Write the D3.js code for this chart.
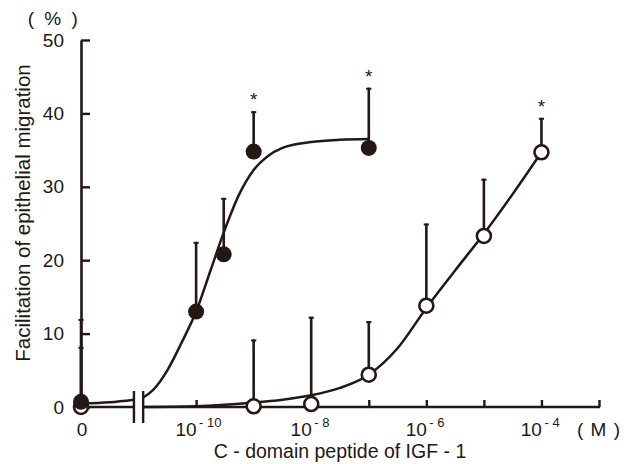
<!DOCTYPE html>
<html>
<head>
<meta charset="utf-8">
<script src="https://cdn.jsdelivr.net/npm/d3@7"></script>
<style>
  body { margin: 0; background: #fff; }
  svg { display: block; }
</style>
</head>
<body>
<div id="chart"></div>
<script>
// dose 0 is drawn at this position on the log10 axis (left of the break)
const ZERO_POS = -12;
const BREAK = [-11.08, -10.92];

const xTickExps = [-10, -9, -8, -7, -6, -5, -4, -3];
const xLabelExps = [-10, -8, -6, -4];
const yTicks = [0, 10, 20, 30, 40, 50];

// filled circles
const filledExp = [ZERO_POS, -10, -9.52, -9, -7];
const filledMean = [0.7, 13.0, 20.8, 34.8, 35.3];
const filledUpper = [12.0, 22.5, 28.5, 40.3, 43.5];
const filledStar = [false, false, false, true, true];

// open circles
const openExp = [ZERO_POS, -9, -8, -7, -6, -5, -4];
const openMean = [0, 0.1, 0.4, 4.4, 13.8, 23.3, 34.7];
const openUpper = [8.2, 9.2, 12.3, 11.7, 25.0, 31.1, 39.4];
const openStar = [false, false, false, false, false, false, true];

// fitted curves
const filledFitZeroExp = [ZERO_POS, -11.5, BREAK[0]];
const filledFitZeroVal = [0.5, 0.65, 1.0];
const filledFitExp = [-10.92, -10.75, -10.5, -10.25, -10, -9.75, -9.5, -9.25, -9, -8.75, -8.5, -8, -7.5, -7];
const filledFitVal = [1.3, 2.3, 5.0, 8.8, 13.0, 18.6, 24.2, 29.0, 32.3, 34.2, 35.3, 36.1, 36.4, 36.5];
const openFitExp = [-10.92, -10, -9.5, -9, -8.5, -8, -7.5, -7, -6.5, -6, -5.5, -5, -4.5, -4];
const openFitVal = [0.0, 0.1, 0.3, 0.6, 1.0, 1.6, 2.6, 4.4, 8.0, 13.5, 18.6, 23.6, 29.0, 34.7];

const W = 637, H = 464;
const ink = "#231815";
const font = "'Liberation Sans', Arial, Helvetica, sans-serif";

const svg = d3.select("#chart").append("svg")
  .attr("width", W)
  .attr("height", H)
  .attr("font-family", font);

const x = d3.scaleLinear().domain([ZERO_POS, -3]).range([81, 599]);
const y = d3.scaleLinear().domain([0, 50]).range([407, 40]);

const line = d3.line()
  .x((d) => x(d[0]))
  .y((d) => y(d[1]))
  .curve(d3.curveMonotoneX);

// fitted curves
const curves = [
  d3.zip(filledFitZeroExp, filledFitZeroVal),
  d3.zip(filledFitExp, filledFitVal),
  d3.zip(openFitExp, openFitVal),
];
svg.append("g")
  .selectAll("path")
  .data(curves)
  .join("path")
  .attr("d", line)
  .attr("fill", "none")
  .attr("stroke", ink)
  .attr("stroke-width", 2.5);

// error bars
const bars = [
  ...filledExp.map((e, i) => ({ e, m: filledMean[i], u: filledUpper[i], star: filledStar[i] })),
  ...openExp.map((e, i) => ({ e, m: openMean[i], u: openUpper[i], star: openStar[i] })),
];
const gErr = svg.append("g").attr("stroke", ink);
gErr.selectAll("line.bar")
  .data(bars)
  .join("line")
  .attr("class", "bar")
  .attr("x1", (d) => x(d.e))
  .attr("x2", (d) => x(d.e))
  .attr("y1", (d) => y(d.m))
  .attr("y2", (d) => y(d.u))
  .attr("stroke-width", 2.6);
gErr.selectAll("line.cap")
  .data(bars)
  .join("line")
  .attr("class", "cap")
  .attr("x1", (d) => x(d.e) - 2.6)
  .attr("x2", (d) => x(d.e) + 2.6)
  .attr("y1", (d) => y(d.u) + 1)
  .attr("y2", (d) => y(d.u) + 1)
  .attr("stroke-width", 2);

// significance stars
svg.append("g")
  .selectAll("text")
  .data(bars.filter((d) => d.star))
  .join("text")
  .attr("x", (d) => x(d.e))
  .attr("y", (d) => y(d.u) - 5)
  .attr("text-anchor", "middle")
  .attr("font-size", 19)
  .attr("fill", ink)
  .text("*");

// y axis
const gy = svg.append("g")
  .attr("transform", `translate(${x(ZERO_POS)},0)`)
  .call(
    d3.axisLeft(y)
      .tickValues(yTicks)
      .tickSizeInner(-9)
      .tickSizeOuter(0)
      .tickPadding(17)
  );
gy.select(".domain").attr("stroke", ink).attr("stroke-width", 2.6);
gy.selectAll(".tick line").attr("stroke", ink).attr("stroke-width", 2.4);
gy.selectAll(".tick text")
  .attr("font-size", 19)
  .attr("font-family", font)
  .attr("fill", ink);

// x axis: ticks from d3, domain drawn in two pieces for the break
const gx = svg.append("g")
  .attr("transform", `translate(0,${y(0)})`)
  .call(
    d3.axisBottom(x)
      .tickValues(xTickExps)
      .tickSizeInner(-7)
      .tickSizeOuter(0)
      .tickFormat("")
  );
gx.select(".domain").remove();
gx.selectAll(".tick line").attr("stroke", ink).attr("stroke-width", 2.4);
gx.append("line")
  .attr("x1", x(ZERO_POS)).attr("x2", x(BREAK[0]))
  .attr("stroke", ink).attr("stroke-width", 2.6);
gx.append("line")
  .attr("x1", x(BREAK[1])).attr("x2", x(-3) + 1)
  .attr("stroke", ink).attr("stroke-width", 2.6);
gx.selectAll("line.brk")
  .data(BREAK)
  .join("line")
  .attr("class", "brk")
  .attr("x1", (d) => x(d)).attr("x2", (d) => x(d))
  .attr("y1", -16).attr("y2", 16)
  .attr("stroke", ink).attr("stroke-width", 2.4);

// x tick labels
const gxl = svg.append("g").attr("fill", ink);
gxl.append("text")
  .attr("x", x(ZERO_POS) + 1)
  .attr("y", 436)
  .attr("text-anchor", "middle")
  .attr("font-size", 19)
  .text("0");
gxl.selectAll("text.base")
  .data(xLabelExps)
  .join("text")
  .attr("class", "base")
  .attr("x", (d) => x(d) + 0.5)
  .attr("y", 436)
  .attr("text-anchor", "end")
  .attr("font-size", 19)
  .text("10");
gxl.selectAll("text.exp")
  .data(xLabelExps)
  .join("text")
  .attr("class", "exp")
  .attr("x", (d) => x(d) + 3)
  .attr("y", 426.5)
  .attr("font-size", 13)
  .text((d) => `- ${Math.abs(d)}`);
gxl.append("text")
  .attr("x", 577)
  .attr("y", 436)
  .attr("font-size", 19)
  .attr("letter-spacing", 1)
  .text("( M )");

// points: open first, filled on top
svg.append("g")
  .selectAll("circle")
  .data(d3.zip(openExp, openMean))
  .join("circle")
  .attr("cx", (d) => x(d[0]))
  .attr("cy", (d) => y(d[1]))
  .attr("r", 7)
  .attr("fill", "#fff")
  .attr("stroke", ink)
  .attr("stroke-width", 2.6);
svg.append("g")
  .selectAll("circle")
  .data(d3.zip(filledExp, filledMean))
  .join("circle")
  .attr("cx", (d) => x(d[0]))
  .attr("cy", (d) => y(d[1]))
  .attr("r", 8)
  .attr("fill", ink);

// titles
svg.append("text")
  .attr("x", 54)
  .attr("y", 25)
  .attr("text-anchor", "middle")
  .attr("font-size", 19)
  .attr("letter-spacing", 2.5)
  .attr("fill", ink)
  .text("( % )");
svg.append("text")
  .attr("transform", "translate(30,213) rotate(-90)")
  .attr("text-anchor", "middle")
  .attr("font-size", 20.5)
  .attr("fill", ink)
  .text("Facilitation of epithelial migration");
svg.append("text")
  .attr("x", 340)
  .attr("y", 458)
  .attr("text-anchor", "middle")
  .attr("font-size", 19.5)
  .attr("fill", ink)
  .text("C - domain peptide of IGF - 1");
</script>
</body>
</html>
